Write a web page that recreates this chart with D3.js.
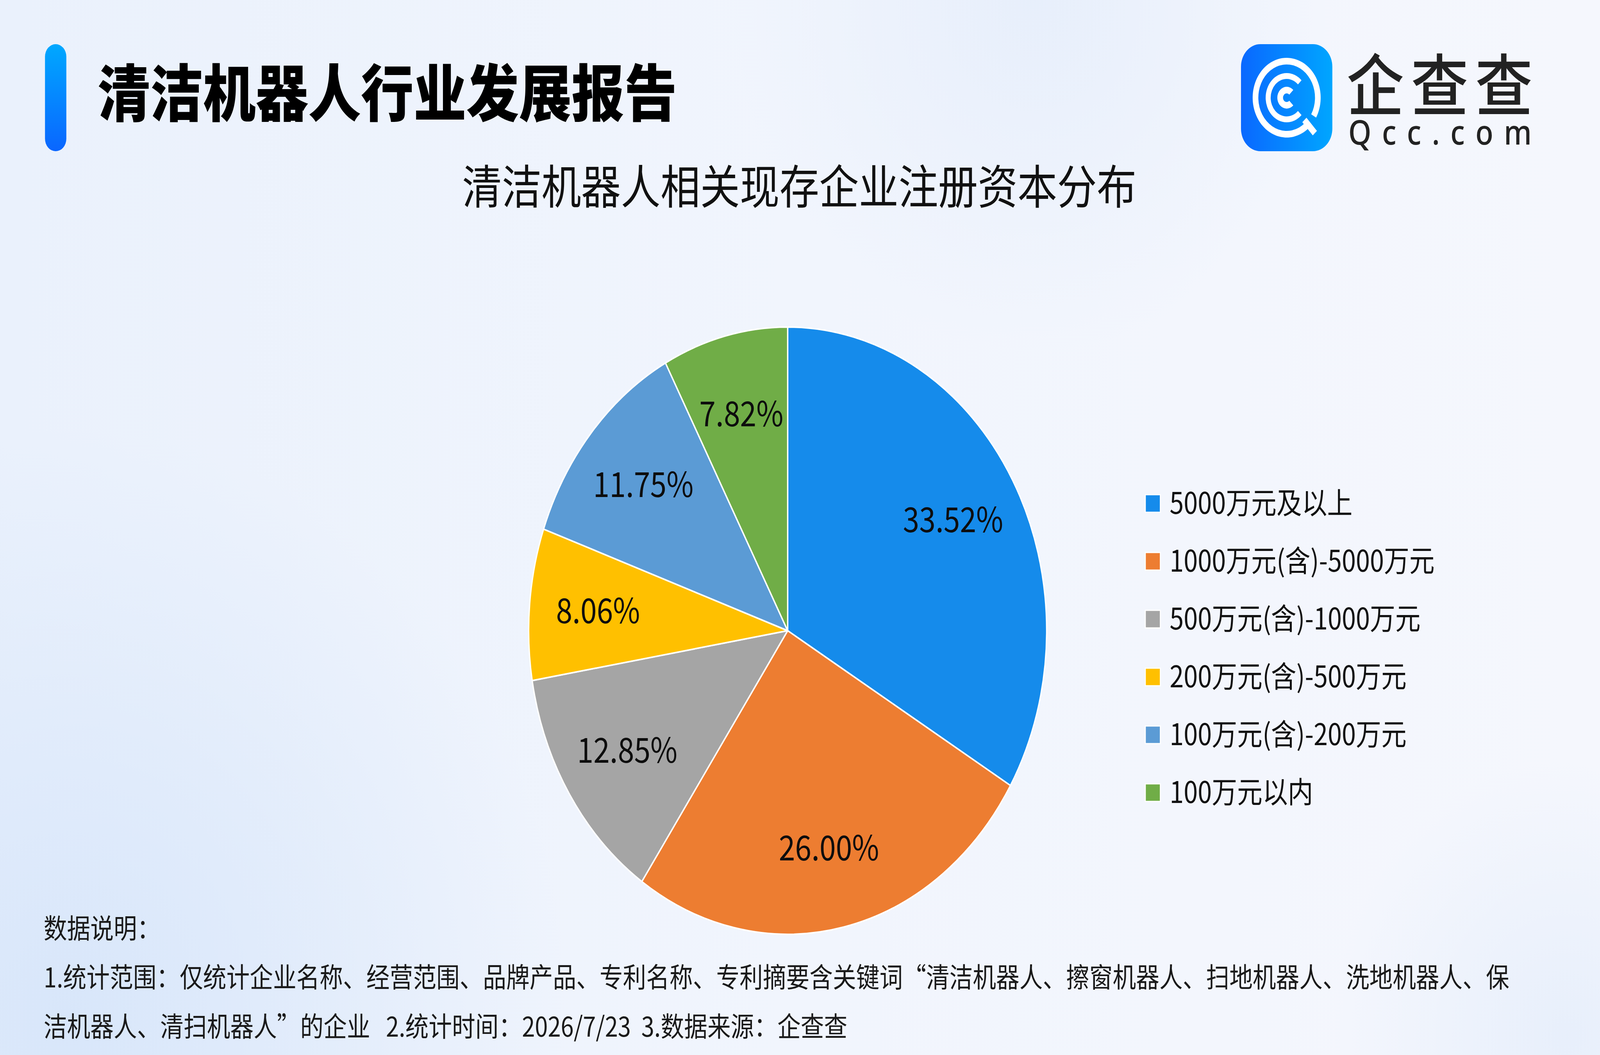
<!DOCTYPE html>
<html>
<head>
<meta charset="utf-8">
<script src="https://cdn.jsdelivr.net/npm/d3@7"></script>
<style>
  html, body { margin: 0; padding: 0; width: 100%; height: 100%; overflow: hidden; background: #f0f4fc; }
  #plot { width: 100vw; height: 100vh; }
  svg { display: block; }
  text { font-family: "Noto Sans CJK SC", "Noto Sans", sans-serif; }
</style>
</head>
<body>
<div id="plot"></div>
<script>

// chart data
var reportTitle = "清洁机器人行业发展报告";
var chartTitle = "清洁机器人相关现存企业注册资本分布";
var categories = [
    "5000万元及以上",
    "1000万元(含)-5000万元",
    "500万元(含)-1000万元",
    "200万元(含)-500万元",
    "100万元(含)-200万元",
    "100万元以内"
];
var shares = [33.52, 26.00, 12.85, 8.06, 11.75, 7.82];
var palette = ["#158beb", "#ed7d31", "#a5a5a5", "#ffc000", "#5b9bd5", "#70ad47"];
var footerLines = [
    "数据说明：",
    "1.统计范围：仅统计企业名称、经营范围、品牌产品、专利名称、专利摘要含关键词“清洁机器人、擦窗机器人、扫地机器人、洗地机器人、保",
    "洁机器人、清扫机器人”的企业\u00a0\u00a0\u00a02.统计时间：2026/7/23\u00a0\u00a03.数据来源：企查查"
];

window.onload = function(){
    buildChart();
};

function buildChart(){

    var width = 4800;
    var height = 2700;

    // the sketch is laid out on a 4800x2700 board and stretched to the window
    var svg = d3.select("#plot")
        .append("svg")
        .attr("width", "100%")
        .attr("height", "100%")
        .attr("viewBox", "0 0 " + width + " " + height)
        .attr("preserveAspectRatio", "none");

    var defs = svg.append("defs");

    var bg = defs.append("linearGradient").attr("id", "bg")
        .attr("x1", 0).attr("y1", 0).attr("x2", 1).attr("y2", 0);
    bg.append("stop").attr("offset", "0%").attr("stop-color", "#eaf1fc");
    bg.append("stop").attr("offset", "50%").attr("stop-color", "#f1f5fd");
    bg.append("stop").attr("offset", "100%").attr("stop-color", "#f5f7fd");

    var blobBL = defs.append("radialGradient").attr("id", "blobBL");
    blobBL.append("stop").attr("offset", "0%").attr("stop-color", "#d6e5fa").attr("stop-opacity", 0.9);
    blobBL.append("stop").attr("offset", "100%").attr("stop-color", "#d6e5fa").attr("stop-opacity", 0);

    var blobTop = defs.append("radialGradient").attr("id", "blobTop");
    blobTop.append("stop").attr("offset", "0%").attr("stop-color", "#e6eefb").attr("stop-opacity", 0.9);
    blobTop.append("stop").attr("offset", "100%").attr("stop-color", "#e6eefb").attr("stop-opacity", 0);

    var bar = defs.append("linearGradient").attr("id", "bar")
        .attr("x1", 0).attr("y1", 0).attr("x2", 0).attr("y2", 1);
    bar.append("stop").attr("offset", "0%").attr("stop-color", "#00a8ff");
    bar.append("stop").attr("offset", "100%").attr("stop-color", "#0a66ff");

    var logo = defs.append("linearGradient").attr("id", "logo")
        .attr("x1", 0).attr("y1", 0).attr("x2", 1).attr("y2", 0);
    logo.append("stop").attr("offset", "0%").attr("stop-color", "#0a68ff");
    logo.append("stop").attr("offset", "100%").attr("stop-color", "#00a6ff");

    // background
    svg.append("rect").attr("width", width).attr("height", height).attr("fill", "url(#bg)");
    svg.append("circle").attr("cx", 200).attr("cy", 2600).attr("r", 1500).attr("fill", "url(#blobBL)");
    svg.append("circle").attr("cx", 3100).attr("cy", 0).attr("r", 900).attr("fill", "url(#blobTop)");
    svg.append("circle").attr("cx", 4700).attr("cy", 2650).attr("r", 700).attr("fill", "url(#blobTop)");

    // header
    svg.append("rect")
        .attr("x", 135).attr("y", 113)
        .attr("width", 64).attr("height", 274)
        .attr("rx", 32)
        .attr("fill", "url(#bar)");

    svg.append("text")
        .attr("x", 293).attr("y", 297)
        .attr("font-size", 158)
        .attr("font-weight", 900)
        .attr("fill", "#000")
        .text(reportTitle);

    // logo
    var lg = svg.append("g").attr("transform", "translate(3860,250)");
    lg.append("rect")
        .attr("x", -137).attr("y", -137)
        .attr("width", 274).attr("height", 274)
        .attr("rx", 58)
        .attr("fill", "url(#logo)");

    var deg = Math.PI / 180;
    var rings = [
        {r0: 85, r1: 102, a0: 140, a1: 480},
        {r0: 48, r1: 63, a0: 135, a1: 405},
        {r0: 11, r1: 28, a0: 135, a1: 405}
    ];
    lg.selectAll("path.ring")
        .data(rings)
        .enter()
        .append("path")
        .attr("class", "ring")
        .attr("fill", "#fff")
        .attr("d", d => d3.arc()({innerRadius: d.r0, outerRadius: d.r1, startAngle: d.a0 * deg, endAngle: d.a1 * deg}));
    lg.append("line")
        .attr("x1", 78 * Math.cos(47 * deg)).attr("y1", 78 * Math.sin(47 * deg))
        .attr("x2", 124 * Math.cos(47 * deg)).attr("y2", 124 * Math.sin(47 * deg))
        .attr("stroke", "#fff").attr("stroke-width", 17);

    svg.append("text")
        .attr("x", 4040).attr("y", 282)
        .attr("font-size", 172)
        .attr("font-weight", 500)
        .attr("fill", "#222")
        .attr("textLength", 558)
        .attr("lengthAdjust", "spacing")
        .text("企查查");

    svg.append("text")
        .attr("x", 4045).attr("y", 370)
        .attr("font-size", 88)
        .attr("font-weight", 500)
        .attr("fill", "#222")
        .attr("textLength", 550)
        .attr("lengthAdjust", "spacing")
        .style("font-family", "'Noto Sans', sans-serif")
        .text("Qcc.com");

    // chart title
    svg.append("text")
        .attr("x", 2398).attr("y", 522)
        .attr("text-anchor", "middle")
        .attr("font-size", 119)
        .attr("fill", "#111")
        .text(chartTitle);

    // pie
    var radius = 777;
    var color = d3.scaleOrdinal().domain(categories).range(palette);

    var pie = d3.pie()
        .sort(null)
        .value(d => d.value);

    var data = categories.map((c, i) => ({name: c, value: shares[i]}));
    var arcs = pie(data);

    var arc = d3.arc().innerRadius(0).outerRadius(radius);
    var labelArc = d3.arc().innerRadius(radius * 0.735).outerRadius(radius * 0.735);

    var pg = svg.append("g").attr("transform", "translate(2363,1614)");

    pg.selectAll("path")
        .data(arcs)
        .enter()
        .append("path")
        .attr("d", arc)
        .attr("fill", d => color(d.data.name))
        .attr("stroke", "#fff")
        .attr("stroke-width", 4)
        .attr("stroke-linejoin", "round");

    pg.selectAll("text")
        .data(arcs)
        .enter()
        .append("text")
        .attr("transform", d => "translate(" + labelArc.centroid(d) + ")")
        .attr("text-anchor", "middle")
        .attr("dy", "0.35em")
        .attr("font-size", 88)
        .attr("fill", "#0d0d0d")
        .text(d => d.data.value.toFixed(2) + "%");

    // legend
    var yLegend = d3.scalePoint()
        .domain(categories)
        .range([1288, 1288 + 5 * 148]);

    var leg = svg.append("g")
        .selectAll("g")
        .data(categories)
        .enter()
        .append("g")
        .attr("transform", d => "translate(3436," + yLegend(d) + ")");

    leg.append("rect")
        .attr("x", 0).attr("y", -22)
        .attr("width", 45).attr("height", 45)
        .attr("fill", d => color(d))
        .attr("stroke", "#fff")
        .attr("stroke-width", 3);

    leg.append("text")
        .attr("x", 73)
        .attr("dy", "0.36em")
        .attr("font-size", 76)
        .attr("fill", "#111")
        .text(d => d);

    // footer notes
    var yFooter = d3.scalePoint()
        .domain(d3.range(footerLines.length))
        .range([2402, 2653]);

    svg.append("g")
        .selectAll("text")
        .data(footerLines)
        .enter()
        .append("text")
        .attr("x", 131)
        .attr("y", (d, i) => yFooter(i))
        .attr("font-size", 70)
        .attr("fill", "#1a1a1a")
        .text(d => d);
}
</script>
</body>
</html>
